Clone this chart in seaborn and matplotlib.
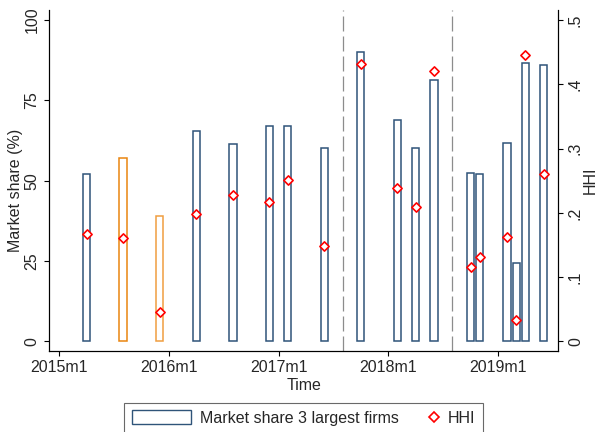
import numpy as np
import pandas as pd
import matplotlib
matplotlib.use("Agg")
import matplotlib.pyplot as plt
import seaborn as sns
from matplotlib.patches import Patch
from matplotlib.lines import Line2D
from matplotlib.legend_handler import HandlerLine2D

# data (Stata monthly dates)
bar_months = ["2015m4", "2015m8", "2015m12", "2016m4", "2016m8", "2016m12",
              "2017m2", "2017m6", "2017m10", "2018m2", "2018m4", "2018m6",
              "2018m10", "2018m11", "2019m2", "2019m3", "2019m4", "2019m6"]
share = [52.2, 57.0, 39.1, 65.4, 61.5, 67.1, 67.0, 60.3, 90.1,
         68.9, 60.2, 81.4, 52.4, 52.1, 61.7, 24.3, 86.6, 85.9]
hhi = [0.167, 0.161, 0.046, 0.198, 0.228, 0.217, 0.251, 0.149, 0.432,
       0.239, 0.209, 0.421, 0.116, 0.132, 0.162, 0.033, 0.446, 0.261]
grp = ["navy", "orange", "orange_lt"] + ["navy"] * 15
breaks = ["2017m8", "2018m8"]
xtick_labels = ["2015m1", "2016m1", "2017m1", "2018m1", "2019m1"]
ytick_left = [0, 25, 50, 75, 100]
ytick_right = [0, 0.1, 0.2, 0.3, 0.4, 0.5]
ytick_right_labels = ["0", ".1", ".2", ".3", ".4", ".5"]

navy = "#2f5479"
pal = {"navy": navy, "orange": "#ea850f", "orange_lt": "#f09e40"}


def month_index(s):
    y, m = s.split("m")
    return (int(y) - 2015) * 12 + int(m) - 1


df = pd.DataFrame({"t": [month_index(m) for m in bar_months],
                   "share": share, "hhi": hhi, "grp": grp})

sns.set_style("ticks")
plt.rcParams["font.family"] = ["Liberation Sans", "DejaVu Sans"]
plt.rcParams["font.size"] = 11.5

fig = plt.figure(figsize=(6, 4.32), dpi=100)
ax = fig.add_axes([0.082, 0.188, 0.8485, 0.7877])

sns.barplot(data=df, x="t", y="share", hue="grp", palette=pal, native_scale=True,
            dodge=False, fill=False, width=0.8, linewidth=1.1, errorbar=None,
            legend=False, orient="x", ax=ax)

for b in breaks:
    ax.axvline(month_index(b), color="#8c8c8c", lw=0.9, dashes=(12, 4), zorder=0)

ax2 = ax.twinx()
sns.scatterplot(data=df, x="t", y="hhi", marker="D", s=22, color="white",
                edgecolor="red", linewidth=1.2, ax=ax2, zorder=3)

ymin, ymax = -2.93, 103.0
ax.set_xlim(-1.09, 54.6)
ax.set_ylim(ymin, ymax)
ax2.set_ylim(ymin / 200, ymax / 200)

ax.set_xticks([month_index(s) for s in xtick_labels], labels=xtick_labels)
ax.set_yticks(ytick_left, labels=[str(v) for v in ytick_left])
ax2.set_yticks(ytick_right, labels=ytick_right_labels)

for a in (ax, ax2):
    a.tick_params(length=3.6, width=0.8, color="black", pad=3.3, labelsize=11.5)
    a.tick_params(axis="y", labelrotation=90)
    for lbl in a.get_yticklabels():
        lbl.set_va("center")
    for sp in a.spines.values():
        sp.set_linewidth(0.8)
        sp.set_color("black")
    a.spines["top"].set_visible(False)

ax.set_xlabel("Time")
ax.xaxis.set_label_coords(0.5, -0.101)
ax.xaxis.label.set_va("center")
ax.set_ylabel("Market share (%)")
ax.yaxis.set_label_coords(-0.067, 0.472)
ax.yaxis.label.set_va("center")
ax2.set_ylabel("HHI", rotation=90)
ax2.yaxis.set_label_coords(1.062, 0.502)
ax2.yaxis.label.set_va("center")


class EndMarker(HandlerLine2D):
    # put the diamond near the right end of the handle box
    def create_artists(self, legend, orig_handle, xdescent, ydescent, width,
                       height, fontsize, trans):
        arts = super().create_artists(legend, orig_handle, xdescent, ydescent,
                                      width, height, fontsize, trans)
        xm = -xdescent + width - 0.3 * fontsize
        for a in arts:
            xd = np.asarray(a.get_xdata(), float)
            if len(xd) == 3:
                xd[1] = xm
                a.set_xdata(xd)
            elif len(xd) == 1:
                a.set_xdata([xm])
        return arts


h1 = Patch(facecolor="white", edgecolor=navy, linewidth=1.0)
h2 = Line2D([], [], ls="none", marker="D", markersize=4.6, mfc="white",
            mec="red", mew=1.2)
leg = fig.legend([h1, h2], ["Market share 3 largest firms", "HHI"],
                 loc="upper center", bbox_to_anchor=(0.506, 0.0671), ncol=2,
                 handlelength=3.75, handleheight=1.0, handletextpad=0.56,
                 columnspacing=-1.25, borderpad=0.45, borderaxespad=0,
                 frameon=True, fancybox=False, edgecolor="#444444",
                 fontsize=11.5, handler_map={h2: EndMarker(numpoints=1)})
leg.get_frame().set_linewidth(0.8)

fig.savefig("out.png", dpi=100, facecolor="white")
